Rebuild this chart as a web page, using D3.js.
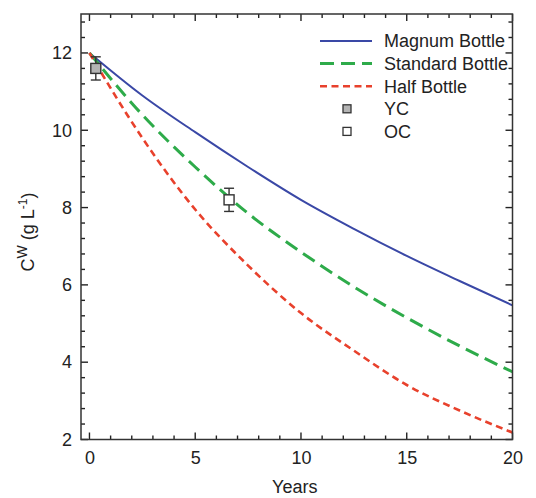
<!DOCTYPE html>
<html>
<head>
<meta charset="utf-8">
<script src="https://cdn.jsdelivr.net/npm/d3@7"></script>
<style>
  body { margin: 0; background: #fff; }
  svg { font-family: "Liberation Sans", Arial, sans-serif; }
</style>
</head>
<body>
<div id="chart"></div>
<script>
// values
const years = [0, 2.5, 5, 7.5, 10, 12.5, 15, 17.5, 20];
const magnum = [12.0, 10.9, 9.95, 9.05, 8.2, 7.45, 6.75, 6.1, 5.47];
const standard = [12.0, 10.4, 9.05, 7.85, 6.85, 5.95, 5.15, 4.42, 3.75];
const half = [12.0, 9.8, 7.95, 6.5, 5.27, 4.3, 3.41, 2.75, 2.18];

const obsLabels = ["YC", "OC"];
const obsYears = [0.3, 6.6];
const obsValues = [11.6, 8.2];
const obsErrors = [0.3, 0.3];
const obsFills = ["#b4b4b4", "#ffffff"];

const xTicks = [0, 5, 10, 15, 20];
const yTicks = [2, 4, 6, 8, 10, 12];

const series = [
    {name: "Magnum Bottle", values: magnum, color: "#3a48a6", width: 2, dash: null},
    {name: "Standard Bottle", values: standard, color: "#2eab4a", width: 3, dash: "14,7"},
    {name: "Half Bottle", values: half, color: "#e8412c", width: 2.6, dash: "7,4.5"}
];

const width = 536, height = 498;
const plotLeft = 81, plotRight = 512.5, plotTop = 14, plotBottom = 439.5;
const fontSize = "18px";

const x = d3.scaleLinear().domain([-0.4, 20]).range([plotLeft, plotRight]);
const y = d3.scaleLinear().domain([2, 13]).range([plotBottom, plotTop + 0.3]);

const svg = d3.select("#chart").append("svg")
    .attr("width", width)
    .attr("height", height);

const line = d3.line()
    .x((d, i) => x(years[i]))
    .y(d => y(d))
    .curve(d3.curveMonotoneX);

svg.append("clipPath").attr("id", "clip")
    .append("rect")
    .attr("x", plotLeft).attr("y", plotTop)
    .attr("width", plotRight - plotLeft).attr("height", plotBottom - plotTop);

svg.append("g")
    .attr("clip-path", "url(#clip)")
    .selectAll("path")
    .data(series)
    .join("path")
    .attr("d", d => line(d.values))
    .attr("fill", "none")
    .attr("stroke", d => d.color)
    .attr("stroke-width", d => d.width)
    .attr("stroke-dasharray", d => d.dash);

// observations with error bars
const obs = svg.append("g")
    .attr("stroke", "#333")
    .attr("stroke-width", 1.4)
    .selectAll("g")
    .data(obsYears.map((t, i) => ({t, v: obsValues[i], e: obsErrors[i], fill: obsFills[i]})))
    .join("g");
obs.append("line")
    .attr("x1", d => x(d.t)).attr("x2", d => x(d.t))
    .attr("y1", d => y(d.v + d.e)).attr("y2", d => y(d.v - d.e));
obs.append("line")
    .attr("x1", d => x(d.t) - 5).attr("x2", d => x(d.t) + 5)
    .attr("y1", d => y(d.v + d.e)).attr("y2", d => y(d.v + d.e));
obs.append("line")
    .attr("x1", d => x(d.t) - 5).attr("x2", d => x(d.t) + 5)
    .attr("y1", d => y(d.v - d.e)).attr("y2", d => y(d.v - d.e));
obs.append("rect")
    .attr("x", d => x(d.t) - 5).attr("y", d => y(d.v) - 5)
    .attr("width", 10).attr("height", 10)
    .attr("fill", d => d.fill);

// tick labels from d3 axes
function styleAxis(g) {
    g.select(".domain").remove();
    g.selectAll(".tick line").remove();
    g.selectAll("text").attr("fill", "#222").style("font-size", fontSize);
}
svg.append("g").attr("transform", `translate(0,${plotBottom})`)
    .call(d3.axisBottom(x).tickValues(xTicks).tickSize(0).tickPadding(12).tickFormat(d3.format("d")))
    .call(styleAxis);
svg.append("g").attr("transform", `translate(${plotLeft},0)`)
    .call(d3.axisLeft(y).tickValues(yTicks).tickSize(0).tickPadding(9).tickFormat(d3.format("d")))
    .call(styleAxis);

// inward tick marks on all four sides
const minorX = d3.range(0, 21, 1);
const minorY = d3.range(2, 13.01, 0.4);
const xTickMarks = minorX.map(v => ({v, len: xTicks.includes(v) ? 7 : 4}));
const yTickMarks = minorY.map(v => ({v, len: yTicks.some(t => Math.abs(t - v) < 1e-6) ? 7 : 4}));

const ticks = svg.append("g")
    .attr("stroke", "#222")
    .attr("stroke-width", 1.4);
ticks.selectAll(".xb").data(xTickMarks).join("line").attr("class", "xb")
    .attr("x1", d => x(d.v)).attr("x2", d => x(d.v))
    .attr("y1", plotBottom).attr("y2", d => plotBottom - d.len);
ticks.selectAll(".xt").data(xTickMarks).join("line").attr("class", "xt")
    .attr("x1", d => x(d.v)).attr("x2", d => x(d.v))
    .attr("y1", plotTop).attr("y2", d => plotTop + d.len);
ticks.selectAll(".yl").data(yTickMarks).join("line").attr("class", "yl")
    .attr("y1", d => y(d.v)).attr("y2", d => y(d.v))
    .attr("x1", plotLeft).attr("x2", d => plotLeft + d.len);
ticks.selectAll(".yr").data(yTickMarks).join("line").attr("class", "yr")
    .attr("y1", d => y(d.v)).attr("y2", d => y(d.v))
    .attr("x1", plotRight).attr("x2", d => plotRight - d.len);

svg.append("rect")
    .attr("x", plotLeft).attr("y", plotTop)
    .attr("width", plotRight - plotLeft).attr("height", plotBottom - plotTop)
    .attr("fill", "none")
    .attr("stroke", "#333")
    .attr("stroke-width", 1.5);

// axis titles
svg.append("text")
    .attr("x", (plotLeft + plotRight) / 2 - 2)
    .attr("y", 493)
    .attr("text-anchor", "middle")
    .attr("fill", "#222")
    .style("font-size", fontSize)
    .text("Years");

const yTitle = svg.append("text")
    .attr("transform", "translate(34,232) rotate(-90)")
    .attr("text-anchor", "middle")
    .attr("fill", "#222")
    .style("font-size", fontSize);
yTitle.append("tspan").text("C");
yTitle.append("tspan").attr("dy", -7).style("font-size", "14px").text("W");
yTitle.append("tspan").attr("dy", 7).text(" (g L");
yTitle.append("tspan").attr("dy", -7).style("font-size", "12px").text("-1");
yTitle.append("tspan").attr("dy", 7).text(")");

// legend
const legend = svg.append("g");
const rowY = i => 41 + i * 22.6;
series.forEach((s, i) => {
    legend.append("line")
        .attr("x1", 320).attr("x2", 372)
        .attr("y1", rowY(i)).attr("y2", rowY(i))
        .attr("stroke", s.color)
        .attr("stroke-width", s.width)
        .attr("stroke-dasharray", s.dash);
    legend.append("text")
        .attr("x", 384).attr("y", rowY(i))
        .attr("dy", "0.35em")
        .attr("fill", "#222")
        .style("font-size", fontSize)
        .text(s.name);
});
obsLabels.forEach((lab, j) => {
    const i = j + 3;
    legend.append("rect")
        .attr("x", 343).attr("y", rowY(i) - 4)
        .attr("width", 8).attr("height", 8)
        .attr("fill", obsFills[j])
        .attr("stroke", "#333")
        .attr("stroke-width", 1.3);
    legend.append("text")
        .attr("x", 384).attr("y", rowY(i))
        .attr("dy", "0.35em")
        .attr("fill", "#222")
        .style("font-size", fontSize)
        .text(lab);
});
</script>
</body>
</html>
